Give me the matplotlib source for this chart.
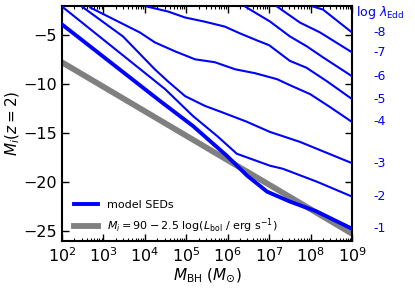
import numpy as np
import matplotlib
matplotlib.use('Agg')
import matplotlib.pyplot as plt
import matplotlib.transforms as mtransforms
from matplotlib.ticker import LogLocator, NullFormatter

# log lambda_Edd for each model curve
log_ledd = [-1, -2, -3, -4, -5, -6, -7, -8]

# curves: log M_BH and M_i(z=2)
logm_m1 = [2.00, 4.37, 5.16, 5.98, 6.47, 6.95, 7.50, 8.15, 9.00]
mi_m1 = [-3.88, -11.71, -14.25, -17.30, -19.33, -20.96, -21.97, -22.99, -24.75]

logm_m2 = [2.00, 4.49, 5.16, 5.74, 6.22, 7.02, 7.33, 8.15, 9.00]
mi_m2 = [-2.05, -10.49, -13.23, -15.26, -17.09, -18.31, -18.62, -19.94, -21.46]

logm_m3 = [2.48, 3.47, 4.24, 4.55, 4.97, 5.45, 5.85, 6.45, 7.02, 7.74, 9.00]
mi_m3 = [-2.05, -5.10, -8.46, -9.67, -11.20, -12.20, -12.83, -13.80, -14.86, -15.87, -18.05]

logm_m4 = [2.68, 3.88, 4.24, 4.73, 5.21, 5.69, 6.18, 6.66, 7.19, 7.50, 7.99, 8.47, 9.00]
mi_m4 = [-2.15, -4.70, -5.71, -6.63, -7.44, -7.74, -8.46, -8.86, -9.47, -10.08, -11.00, -12.32, -13.84]

logm_m5 = [4.05, 4.56, 4.97, 5.45, 5.93, 6.30, 6.70, 7.00, 7.50, 7.90, 8.40, 9.00]
mi_m5 = [-2.05, -2.56, -3.17, -3.60, -4.10, -4.80, -5.50, -6.00, -7.60, -8.30, -9.70, -11.50]

logm_m6 = [6.42, 6.54, 7.02, 7.50, 7.91, 8.30, 9.00]
mi_m6 = [-2.05, -2.36, -3.58, -5.10, -6.12, -7.24, -9.17]

logm_m7 = [7.19, 7.74, 8.23, 9.00]
mi_m7 = [-2.05, -3.68, -4.70, -6.73]

logm_m8 = [8.06, 8.30, 9.00]
mi_m8 = [-2.05, -2.36, -4.70]

# M_i = 90 - 2.5 log(L_bol) line
logm_lbol = [2.0, 9.0]
mi_lbol = [-7.75, -25.25]

curves = [(logm_m1, mi_m1), (logm_m2, mi_m2), (logm_m3, mi_m3), (logm_m4, mi_m4),
          (logm_m5, mi_m5), (logm_m6, mi_m6), (logm_m7, mi_m7), (logm_m8, mi_m8)]

fig = plt.figure(figsize=(4.15, 3.02), dpi=100)
ax = fig.add_axes([0.1494, 0.202, 0.6988, 0.778])

ax.plot(10**np.array(logm_lbol), mi_lbol, color='gray', lw=4.2, zorder=2,
        label=r'$M_i = 90 - 2.5\ \log(L_{\rm bol}$ / erg s$^{-1}$)')

for i, (lm, mi) in enumerate(curves):
    if i == 0:
        ax.plot(10**np.array(lm), mi, color='#0000ff', lw=2.8, zorder=3, label='model SEDs')
    else:
        ax.plot(10**np.array(lm), mi, color='#0000ff', lw=1.5, zorder=3)

ax.set_xscale('log')
ax.set_xlim(1e2, 1e9)
ax.set_ylim(-26, -2)
ax.set_yticks([-5, -10, -15, -20, -25])
ax.xaxis.set_major_locator(LogLocator(base=10, numticks=20))
ax.xaxis.set_minor_locator(LogLocator(base=10, subs=np.arange(2, 10), numticks=20))
ax.xaxis.set_minor_formatter(NullFormatter())

ax.tick_params(which='both', direction='in', top=True, right=True, labelsize=11.5)
ax.tick_params(which='major', length=5, width=1)
ax.tick_params(which='minor', length=2.5, width=0.8)
for s in ax.spines.values():
    s.set_linewidth(1.5)

ax.set_xlabel(r'$M_{\rm BH}$ $(M_{\odot})$', fontsize=11, labelpad=1)
ax.set_ylabel(r'$M_i(z=2)$', fontsize=11, labelpad=1)

# log lambda_Edd labels along the right edge
trans = mtransforms.blended_transform_factory(ax.transAxes, ax.transData)
for ll, (lm, mi) in zip(log_ledd, curves):
    ax.text(1.072, mi[-1], str(ll), transform=trans, color='#0000ff',
            fontsize=9, va='center', ha='left')
ax.text(1.015, 0.972, r'log $\lambda_{\rm Edd}$', transform=ax.transAxes,
        color='#0000ff', fontsize=9, va='center', ha='left')

handles, labels = ax.get_legend_handles_labels()
ax.legend(handles[::-1], labels[::-1], loc='lower left', bbox_to_anchor=(0.02, 0.0),
          frameon=False, fontsize=8, handlelength=2.2, labelspacing=0.6,
          borderaxespad=0.15)

fig.savefig('out.png', dpi=100)
